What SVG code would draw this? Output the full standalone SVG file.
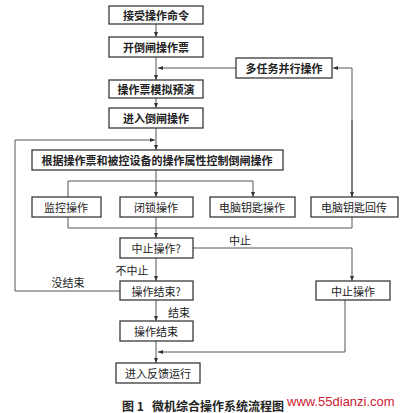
<svg xmlns="http://www.w3.org/2000/svg" width="400" height="413" viewBox="0 0 400 413">
<defs>
<style>
.b{fill:#fff;stroke:#3a3a3a;stroke-width:1.3}
.t{font-family:"Noto Sans CJK SC","Noto Sans CJK JP",sans-serif;font-size:11px;fill:#222;text-anchor:middle;dominant-baseline:central}
.tb{font-weight:bold}
.l{fill:none;stroke:#555;stroke-width:1}
.lab{font-family:"Noto Sans CJK SC",sans-serif;font-size:11px;fill:#222;text-anchor:middle;dominant-baseline:central}
.cap{font-family:"Noto Sans CJK SC",sans-serif;font-size:12px;font-weight:bold;fill:#222;dominant-baseline:central}
</style>
<marker id="a" viewBox="0 0 10 10" refX="10" refY="5" markerWidth="5" markerHeight="5" orient="auto"><path d="M0,1 L10,5 L0,9 z" fill="#333"/></marker>
</defs>
<rect width="400" height="413" fill="#fff"/>
<g id="connectors">
<line class="l" x1="156" y1="24" x2="156" y2="37" marker-end="url(#a)"/>
<line class="l" x1="156" y1="57" x2="156" y2="80" marker-end="url(#a)"/>
<line class="l" x1="236" y1="68" x2="158" y2="68" marker-end="url(#a)"/>
<line class="l" x1="156" y1="98" x2="156" y2="108" marker-end="url(#a)"/>
<line class="l" x1="156" y1="128" x2="156" y2="150" marker-end="url(#a)"/>
<polyline class="l" points="120,291 15,291 15,140 155,140" marker-end="url(#a)"/>
<polyline class="l" points="352,197 352,68 333,68" marker-end="url(#a)"/>
<line class="l" x1="352" y1="120" x2="352" y2="197" marker-end="url(#a)"/>
<line class="l" x1="156" y1="170" x2="156" y2="197" marker-end="url(#a)"/>
<polyline class="l" points="68,197 68,181 253,181 253,197" marker-end="url(#a)"/>
<polyline class="l" points="68,217 68,228 352,228 352,217"/>
<line class="l" x1="156" y1="217" x2="156" y2="238" marker-end="url(#a)"/>
<polyline class="l" points="193,248 352,248 352,281" marker-end="url(#a)"/>
<line class="l" x1="156" y1="258" x2="156" y2="281" marker-end="url(#a)"/>
<line class="l" x1="156" y1="300" x2="156" y2="321" marker-end="url(#a)"/>
<line class="l" x1="156" y1="341" x2="156" y2="363" marker-end="url(#a)"/>
<polyline class="l" points="345,300 345,352 158,352" marker-end="url(#a)"/>
<text class="lab" x="240" y="240">中止</text>
<text class="lab" x="132" y="270">不中止</text>
<text class="lab" x="68" y="282">没结束</text>
<text class="lab" x="179" y="312">结束</text>
</g>
<g id="n1"><rect class="b" x="109" y="6" width="94" height="18"/><text class="t tb" x="156" y="15">接受操作命令</text></g>
<g id="n2"><rect class="b" x="109" y="37" width="94" height="20"/><text class="t tb" x="156" y="47">开倒闸操作票</text></g>
<g id="n3"><rect class="b" x="236" y="58" width="96" height="20"/><text class="t tb" x="284" y="68">多任务并行操作</text></g>
<g id="n4"><rect class="b" x="109" y="80" width="94" height="18"/><text class="t tb" x="156" y="89">操作票模拟预演</text></g>
<g id="n5"><rect class="b" x="109" y="108" width="94" height="20"/><text class="t tb" x="156" y="118">进入倒闸操作</text></g>
<g id="n6"><rect class="b" x="32" y="150" width="251" height="20"/><text class="t tb" x="157" y="160">根据操作票和被控设备的操作属性控制倒闸操作</text></g>
<g id="n7"><rect class="b" x="32" y="197" width="69" height="20"/><text class="t" x="66" y="207">监控操作</text></g>
<g id="n8"><rect class="b" x="120" y="197" width="73" height="20"/><text class="t" x="156" y="207">闭锁操作</text></g>
<g id="n9"><rect class="b" x="210" y="197" width="85" height="20"/><text class="t" x="252" y="207">电脑钥匙操作</text></g>
<g id="n10"><rect class="b" x="311" y="197" width="87" height="20"/><text class="t" x="354" y="207">电脑钥匙回传</text></g>
<g id="n11"><rect class="b" x="120" y="238" width="73" height="20"/><text class="t" x="156" y="248">中止操作?</text></g>
<g id="n12"><rect class="b" x="120" y="281" width="73" height="19"/><text class="t" x="156" y="290.5">操作结束?</text></g>
<g id="n13"><rect class="b" x="316" y="281" width="74" height="19"/><text class="t" x="353" y="290.5">中止操作</text></g>
<g id="n14"><rect class="b" x="120" y="321" width="73" height="20"/><text class="t" x="156" y="331">操作结束</text></g>
<g id="n15"><rect class="b" x="116" y="363" width="84" height="20"/><text class="t" x="158" y="373">进入反馈运行</text></g>
<text class="cap" x="122" y="405">图 1</text>
<text class="cap" x="152" y="405">微机综合操作系统流程图</text>
<text x="287" y="401" font-family="'Liberation Sans',Arial,sans-serif" font-size="13" fill="#cc2030" dominant-baseline="central">www.55dianzi.com</text>
</svg>
